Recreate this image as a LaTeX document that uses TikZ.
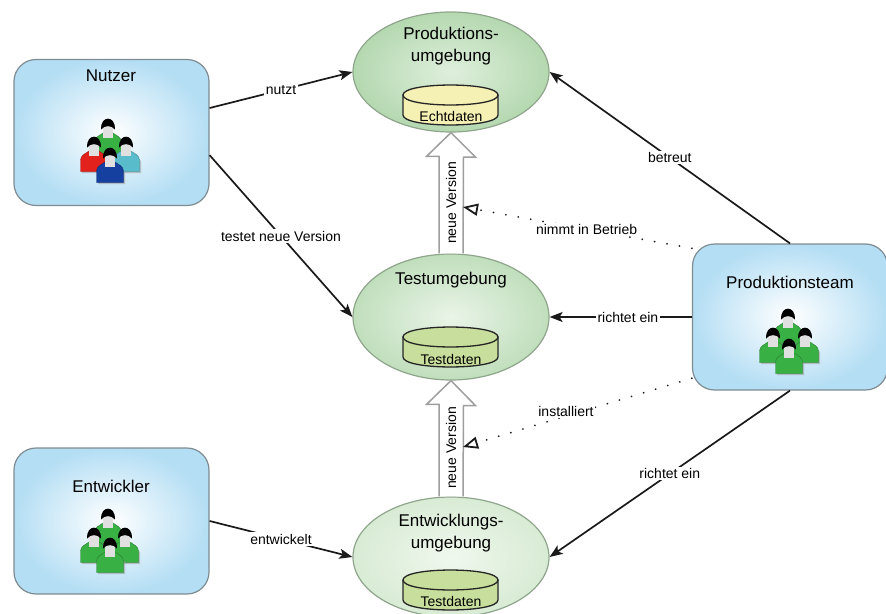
\documentclass[tikz,border=0pt]{standalone}
\usepackage{fontspec}
\setmainfont{Liberation Sans}
\usetikzlibrary{arrows.meta,shapes.geometric,calc}
\definecolor{teamblue}{HTML}{B4DEF4}
\definecolor{edgegray}{HTML}{7F8C92}
\definecolor{greenedge}{HTML}{8FA68C}
\definecolor{shirtgreen}{HTML}{38B044}
\definecolor{shirtred}{HTML}{E2201C}
\definecolor{shirtteal}{HTML}{58BCCB}
\definecolor{shirtblue}{HTML}{1540A0}
\definecolor{lineink}{HTML}{1A1A1A}
\definecolor{envA}{HTML}{B4D8B0}
\definecolor{envAi}{HTML}{DFEFDC}
\definecolor{envB}{HTML}{C0DEBC}
\definecolor{envBi}{HTML}{EAF5E8}
\definecolor{envC}{HTML}{D8EBD4}
\definecolor{envCi}{HTML}{F0F8EE}
\definecolor{dbyellow}{HTML}{F5F0B4}
\definecolor{dbgreen}{HTML}{C8DE9C}
\tikzset{
  x=1pt,y=-1pt,
  teambox/.style={draw=edgegray,line width=1.2pt,rounded corners=22pt,inner color=white,outer color=teamblue,minimum width=195pt,minimum height=146pt,inner sep=0pt},
  envell/.style 2 args={ellipse,draw=greenedge,line width=1.2pt,inner color=#2,outer color=#1,minimum width=196pt,inner sep=0pt},
  dbspot/.style={inner sep=0pt,minimum size=0pt},
  drumline/.style={draw=black!85,line width=1.3pt},
  bigtext/.style={font=\fontsize{17}{22}\selectfont,align=center,text=black,inner sep=0pt},
  smalltext/.style={font=\fontsize{14}{16}\selectfont,text=black,inner sep=0pt},
  edgelabel/.style={smalltext,fill=white,inner sep=1.5pt},
  conn/.style={draw=lineink,line width=1.7pt,-{Stealth[length=13pt,width=10pt,inset=3pt]}},
  dots/.style={draw=lineink,line width=1.9pt,line cap=round,dash pattern=on 0.1pt off 12.5pt,-{Triangle[open,length=15pt,width=12pt,line width=1.8pt,fill=white]}},
  blockarrow/.style={draw=black!38,line width=1.5pt,fill=white,line join=miter}
}
\newcommand{\teamfig}[3]{%
  \begin{scope}[shift={(#1,#2)}]
    \fill[black!40,opacity=.55] (-12,27) -- (-12,15) -- (-4,8) -- (6,8) -- (15,15) -- (15,27) -- cycle;
    \draw[#3!70!black,line width=.4pt,fill=#3] (-13.5,25.5) -- (-13.5,14) .. controls (-13,9) and (-9,8) .. (-5,5) -- (5,5) .. controls (9,8) and (13,9) .. (13.5,14) -- (13.5,25.5) -- cycle;
    \fill[black!12] (-5,-3) rectangle (5,10);
    \fill[black] (-6.8,1.5) .. controls (-8,-13) and (8,-13) .. (6.8,1.5) .. controls (4,-3) and (-4,-3) .. cycle;
  \end{scope}}
\newcommand{\drum}[2]{%
  \path[drumline,fill=#2] ($(#1)+(-47.5,-10)$) -- ($(#1)+(-47.5,10)$) .. controls ($(#1)+(-47.5,23.3)$) and ($(#1)+(47.5,23.3)$) .. ($(#1)+(47.5,10)$) -- ($(#1)+(47.5,-10)$) -- cycle;
  \path[drumline,fill=#2] ($(#1)+(-47.5,-10)$) .. controls ($(#1)+(-47.5,-23.3)$) and ($(#1)+(47.5,-23.3)$) .. ($(#1)+(47.5,-10)$) .. controls ($(#1)+(47.5,3.3)$) and ($(#1)+(-47.5,3.3)$) .. cycle;}
\begin{document}
\begin{tikzpicture}
\useasboundingbox (0,0) rectangle (886,613);
\clip (0,0) rectangle (886,613);
% teams
\node[teambox] (nutzer) at (111.5,132.5) {};
\node[teambox] (team) at (790,317) {};
\node[teambox] (dev) at (111.5,521) {};
% environments
\node[envell={envA}{envAi},minimum height=120pt] (prod) at (451,72) {};
\node[envell={envB}{envBi},minimum height=126pt] (test) at (451,317) {};
\node[envell={envC}{envCi},minimum height=120pt] (ent) at (451,557) {};
% block arrows
\draw[blockarrow] ($(test.north)+(-12,0)$) -- ++(0,-97) -- ++(-12.5,0) -- (prod.south) -- ++(24.5,24.5) -- ++(-12,0) -- ($(test.north)+(12,0)$);
\draw[blockarrow] ($(ent.north)+(-12,0)$) -- ++(0,-92) -- ++(-12.5,0) -- (test.south) -- ++(24.5,25) -- ++(-12,0) -- ($(ent.north)+(12,0)$);
\node[smalltext,rotate=90] (v1) at (451,203) {neue Version};
\node[smalltext,rotate=90] (v2) at (451,448) {neue Version};
\coordinate (hit1) at (463,207);
\coordinate (hit2) at (463,447);
% data stores
\node[dbspot] (db1) at (450.5,105) {};
\node[dbspot] (db2) at (450.5,347) {};
\node[dbspot] (db3) at (450.5,590) {};
\drum{db1}{dbyellow}\drum{db2}{dbgreen}\drum{db3}{dbgreen}
\node[smalltext] (t1) at (451,116) {Echtdaten};
\node[smalltext] (t2) at (451,359) {Testdaten};
\node[smalltext] (t3) at (451,601) {Testdaten};
% titles
\node[bigtext] (n1) at (111,76) {Nutzer};
\node[bigtext] (n2) at (790,282) {Produktionsteam};
\node[bigtext] (n3) at (111,486) {Entwickler};
\node[bigtext] (e1) at (451,46.5) {Produktions-\\umgebung};
\node[bigtext] (e2) at (451,280) {Testumgebung};
\node[bigtext] (e3) at (451,533.5) {Entwicklungs-\\umgebung};
% people
\teamfig{108}{128}{shirtgreen}\teamfig{94}{146}{shirtred}\teamfig{126}{146}{shirtteal}\teamfig{110}{157}{shirtblue}
\teamfig{788}{318}{shirtgreen}\teamfig{773}{337}{shirtgreen}\teamfig{805}{337}{shirtgreen}\teamfig{789}{348}{shirtgreen}
\teamfig{108}{518}{shirtgreen}\teamfig{94}{537}{shirtgreen}\teamfig{125}{537}{shirtgreen}\teamfig{110}{547}{shirtgreen}
% connectors
\draw[conn] (nutzer.14.7) -- node[edgelabel,pos=.5] {nutzt} (prod.west);
\draw[conn] (nutzer.-13.6) -- node[edgelabel,pos=.5] {testet neue Version} (test.west);
\draw[conn] (dev.east) -- node[edgelabel,pos=.5] {entwickelt} (ent.west);
\draw[conn] (team.north) -- node[edgelabel,pos=.5] {betreut} (prod.east);
\draw[conn] (team.west) -- node[edgelabel,pos=.45] {richtet ein} (test.east);
\draw[conn] (team.south) -- node[edgelabel,pos=.5] {richtet ein} (ent.east);
\draw[dots] (team.145) -- node[edgelabel,pos=.46] {nimmt in Betrieb} (hit1);
\draw[dots] (team.212) -- (hit2);
\node[edgelabel] (inst) at (566,411) {installiert};
\end{tikzpicture}
\end{document}
